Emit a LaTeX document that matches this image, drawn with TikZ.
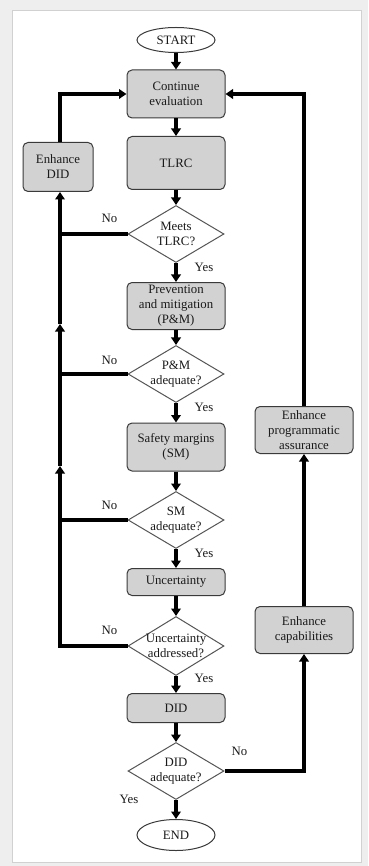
\documentclass[tikz,border=0pt]{standalone}
\usepackage{fontspec}
\setmainfont{Liberation Serif}
\usetikzlibrary{shapes.geometric,arrows.meta,calc}
\definecolor{pagebg}{HTML}{EEEEEE}
\definecolor{boxfill}{HTML}{D2D2D2}
\definecolor{boxline}{HTML}{3A3A3A}
\definecolor{decline}{HTML}{555555}
\definecolor{ink}{HTML}{1A1A1A}
\begin{document}
\begin{tikzpicture}[x=1pt,y=-1pt,
  font=\fontsize{12.8}{15}\selectfont,
  box/.style={draw=boxline, fill=boxfill, rounded corners=5pt, line width=1pt,
    align=center, inner sep=0pt, text=ink, minimum width=98pt},
  dec/.style={diamond, draw=decline, line width=1pt, fill=white,
    minimum width=96pt, minimum height=57pt, inner sep=0pt},
  term/.style={ellipse, draw=boxline, line width=1pt, fill=white,
    minimum width=78pt, inner sep=0pt, text=ink},
  flow/.style={line width=3.1pt, -{Triangle[length=7.5pt,width=9.5pt]}},
  link/.style={line width=3.1pt},
  tag/.style={text=ink, inner sep=0pt, align=center}
]
\useasboundingbox (0,0) rectangle (368,866);
% page frame
\fill[pagebg] (0,0) rectangle (368,866);
\filldraw[fill=white, draw=black!18, line width=0.8pt] (12,10) rectangle (361,862);

% main column
\node[term, minimum height=25pt] (start) at (176,40) {START};
\node[box, minimum height=48pt] (cont) at (176,94) {Continue\\evaluation};
\node[box, minimum height=53pt] (tlrc) at (176,163) {TLRC};
\node[dec] (d1) at (176,234) {};
\node[tag] (d1t) at (d1) {Meets\\TLRC?};
\node[box, minimum height=47pt] (pm) at (176,306) {Prevention\\and mitigation\\(P\&M)};
\node[dec] (d2) at (176,374) {};
\node[tag] (d2t) at (d2) {P\&M\\adequate?};
\node[box, minimum height=48pt] (sm) at (176,447) {Safety margins\\(SM)};
\node[dec] (d3) at (176,520) {};
\node[tag] (d3t) at (d3) {SM\\adequate?};
\node[box, minimum height=27pt] (unc) at (176,582) {Uncertainty};
\node[dec, minimum height=59pt] (d4) at (176,646) {};
\node[tag] (d4t) at (d4) {Uncertainty\\addressed?};
\node[box, minimum height=29pt] (did) at (176,708) {DID};
\node[dec] (d5) at (176,771) {};
\node[tag] (d5t) at (d5) {DID\\adequate?};
\node[term, minimum height=31pt] (end) at (176,835) {END};

% side boxes
\node[box, minimum width=70pt, minimum height=49pt] (edid) at (58,167) {Enhance\\DID};
\node[box, minimum height=47pt] (epa) at (304,430) {Enhance\\programmatic\\assurance};
\node[box, minimum height=47pt] (ecap) at (304,630) {Enhance\\capabilities};

% downward flow
\draw[flow] (start) -- (cont);
\draw[flow] (cont) -- (tlrc);
\draw[flow] (tlrc) -- (d1);
\draw[flow] (d1) -- (pm);
\draw[flow] (pm) -- (d2);
\draw[flow] (d2) -- (sm);
\draw[flow] (sm) -- (d3);
\draw[flow] (d3) -- (unc);
\draw[flow] (unc) -- (d4);
\draw[flow] (d4) -- (did);
\draw[flow] (did) -- (d5);
\draw[flow] (d5) -- (end);

% left return loop
\coordinate (lbase) at (60,646);
\coordinate (lmidA) at (60,466);
\coordinate (lmidB) at (60,324);
\draw[flow] (d4.west) -- (lbase) -- (lmidA);
\draw[flow] (lmidA) -- (lmidB);
\draw[flow] (lmidB) -- (lmidB |- edid.south);
\draw[link] (d1.west) -- (d1.west -| lbase);
\draw[link] (d2.west) -- (d2.west -| lbase);
\draw[link] (d3.west) -- (d3.west -| lbase);
\draw[flow] (lbase |- edid.north) |- (cont.west);

% right return loop
\draw[flow] (d5.east) -| (ecap.south);
\draw[flow] (ecap.north) -- (epa.south);
\draw[flow] (epa.north) |- (cont.east);

% branch labels
\node[tag] (n1) at ($(d1.west)+(-18,-16)$) {No};
\node[tag] (n2) at ($(d2.west)+(-18,-14)$) {No};
\node[tag] (n3) at ($(d3.west)+(-18,-15)$) {No};
\node[tag] (n4) at ($(d4.west)+(-18,-16)$) {No};
\node[tag] (n5) at ($(d5.east)+(15,-20)$) {No};
\node[tag] (y1) at ($(d1.south)+(28,4)$) {Yes};
\node[tag] (y2) at ($(d2.south)+(28,4)$) {Yes};
\node[tag] (y3) at ($(d3.south)+(28,4)$) {Yes};
\node[tag] (y4) at ($(d4.south)+(28,2)$) {Yes};
\node[tag] (y5) at ($(d5.south)+(-47,-1)$) {Yes};
\end{tikzpicture}
\end{document}
